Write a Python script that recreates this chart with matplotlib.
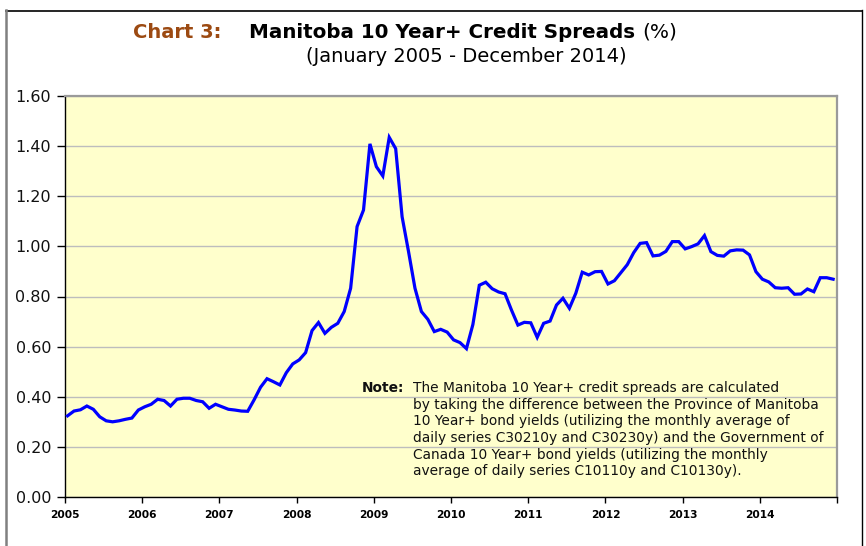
import matplotlib
matplotlib.use("Agg")
import matplotlib.pyplot as plt
import numpy as np
from matplotlib.lines import Line2D

years = ["2005", "2006", "2007", "2008", "2009", "2010", "2011", "2012", "2013", "2014"]
spreads = [
    0.324, 0.343, 0.348, 0.363, 0.350, 0.320, 0.304, 0.300, 0.304, 0.310, 0.315, 0.347,
    0.360, 0.370, 0.390, 0.385, 0.363, 0.390, 0.394, 0.394, 0.385, 0.380, 0.354, 0.370,
    0.360, 0.350, 0.347, 0.343, 0.342, 0.388, 0.438, 0.472, 0.460, 0.447, 0.496, 0.531,
    0.547, 0.576, 0.664, 0.696, 0.653, 0.677, 0.693, 0.740, 0.833, 1.079, 1.145, 1.409,
    1.318, 1.281, 1.435, 1.390, 1.118, 0.979, 0.833, 0.740, 0.709, 0.660, 0.669, 0.658,
    0.627, 0.616, 0.592, 0.688, 0.845, 0.857, 0.831, 0.818, 0.811, 0.746, 0.686, 0.697,
    0.695, 0.637, 0.693, 0.702, 0.766, 0.793, 0.753, 0.813, 0.897, 0.886, 0.899, 0.900,
    0.850, 0.863, 0.895, 0.927, 0.975, 1.012, 1.015, 0.962, 0.965, 0.980, 1.019, 1.019,
    0.990, 0.999, 1.010, 1.043, 0.979, 0.964, 0.961, 0.982, 0.986, 0.985, 0.966, 0.899,
    0.869, 0.858, 0.835, 0.833, 0.835, 0.809, 0.810, 0.830, 0.819, 0.875, 0.875, 0.869,
]
y_ticks = [0.0, 0.2, 0.4, 0.6, 0.8, 1.0, 1.2, 1.4, 1.6]

note_lines = [
    "The Manitoba 10 Year+ credit spreads are calculated",
    "by taking the difference between the Province of Manitoba",
    "10 Year+ bond yields (utilizing the monthly average of",
    "daily series C30210y and C30230y) and the Government of",
    "Canada 10 Year+ bond yields (utilizing the monthly",
    "average of daily series C10110y and C10130y).",
]

W, H = 866, 546
fig = plt.figure(figsize=(W / 100, H / 100), dpi=100)
plt.rcParams['font.family'] = ['DejaVu Sans']

def fx(px):
    return px / W

def fy(py):
    return 1 - py / H

# outer frame
fig.add_artist(Line2D([fx(6), fx(862)], [fy(10.5), fy(10.5)], color="black", lw=1.2))
fig.add_artist(Line2D([fx(6), fx(6)], [fy(10), fy(546)], color="#808080", lw=1.8))
fig.add_artist(Line2D([fx(862), fx(862)], [fy(10), fy(546)], color="black", lw=1.0))

ax = fig.add_axes([fx(65), fy(497), (837 - 65) / W, (497 - 96) / H])
ax.set_facecolor("#FFFFCC")

x = np.arange(len(spreads))
ax.plot(x, spreads, color="#0000FF", lw=2.3, solid_joinstyle="miter", zorder=3)

ax.set_xlim(-0.4, 119.6)
ax.set_ylim(0, 1.6)
ax.set_yticks(y_ticks)
ax.set_yticklabels([f"{v:.2f}" for v in y_ticks], fontsize=11.5, color="#111111")
ax.set_xticks([12 * k - 0.4 for k in range(len(years))] + [119.6])
ax.set_xticklabels(years + [""], fontsize=7.7, fontweight="bold")
ax.tick_params(axis="y", length=6, width=1, direction="out", pad=4)
ax.tick_params(axis="x", length=4, width=1, direction="out", pad=5)
ax.grid(axis="y", color="#BDBDBD", lw=1.0)
ax.set_axisbelow(True)
for s in ("left", "bottom"):
    ax.spines[s].set_color("black")
    ax.spines[s].set_linewidth(1.0)
for s in ("top", "right"):
    ax.spines[s].set_color("#9A9A9A")
    ax.spines[s].set_linewidth(1.6)

# title
t1 = fig.text(fx(133), fy(32), "Chart 3:", color="#9C4A12", fontsize=14,
              fontweight="bold", va="center", ha="left")
t2 = fig.text(fx(249), fy(32), "Manitoba 10 Year+ Credit Spreads", color="black",
              fontsize=14.3, fontweight="bold", va="center", ha="left")
fig.canvas.draw()
bb = t2.get_window_extent()
fig.text((bb.x1 + 7) / W, fy(32), "(%)", color="black", fontsize=14.5,
         va="center", ha="left")
fig.text(fx(466), fy(57), "(January 2005 - December 2014)", color="black",
         fontsize=14, va="center", ha="center")

# note
fig.text(fx(404), fy(388), "Note:", fontsize=9.9, fontweight="bold",
         va="center", ha="right", color="#111111")
for k, line in enumerate(note_lines):
    fig.text(fx(413), fy(388 + k * 16.7), line, fontsize=9.9,
             va="center", ha="left", color="#111111")

fig.savefig("out.png", dpi=100)
